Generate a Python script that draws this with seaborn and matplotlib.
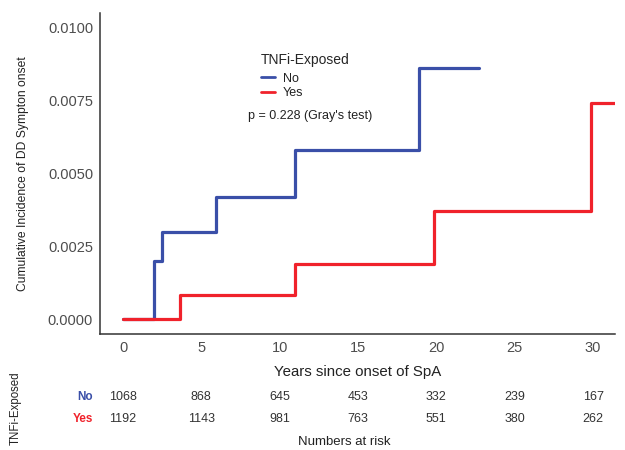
import pandas as pd
import matplotlib.pyplot as plt
import seaborn as sns

# --- Data ---
time_no = [0, 1.97, 2.48, 5.92, 10.96, 18.9, 22.7]
cif_no = [0, 0.0020, 0.0030, 0.0042, 0.0058, 0.0086, 0.0086]
time_yes = [0, 3.63, 10.96, 19.87, 29.9, 31.4]
cif_yes = [0, 0.00085, 0.0019, 0.0037, 0.0074, 0.0074]

risk_times = [0, 5, 10, 15, 20, 25, 30]
risk_no = [1068, 868, 645, 453, 332, 239, 167]
risk_yes = [1192, 1143, 981, 763, 551, 380, 262]

groups = ["No", "Yes"]
colors = {"No": "#3a4fa8", "Yes": "#f0222b"}

df = pd.concat([
    pd.DataFrame({"time": time_no, "cif": cif_no, "TNFi-Exposed": "No"}),
    pd.DataFrame({"time": time_yes, "cif": cif_yes, "TNFi-Exposed": "Yes"}),
])

# --- Style ---
sns.set_style("white")
plt.rcParams['font.family'] = ['Liberation Sans', 'DejaVu Sans']
txt_col = "#4d4d4d"
dark = "#222222"

fig = plt.figure(figsize=(6.25, 4.5), dpi=100)
ax = fig.add_axes([100 / 625, 1 - 334 / 450, 515 / 625, 321 / 450])

sns.lineplot(data=df, x="time", y="cif", hue="TNFi-Exposed", hue_order=groups,
             palette=colors, drawstyle="steps-post", linewidth=2.3,
             estimator=None, sort=False, ax=ax)

ax.set_xlim(-1.47, 31.4)
ax.set_ylim(-0.0005, 0.0105)
ax.set_xticks(risk_times)
ax.set_yticks([0, 0.0025, 0.005, 0.0075, 0.01])
ax.set_yticklabels(["0.0000", "0.0025", "0.0050", "0.0075", "0.0100"])
ax.tick_params(axis="both", colors="#333333", labelcolor=txt_col, labelsize=10.5,
               length=3, width=0.8, direction="out", pad=2)
sns.despine(ax=ax)
for s in ["left", "bottom"]:
    ax.spines[s].set_color("#333333")
    ax.spines[s].set_linewidth(1.1)

ax.set_xlabel("Years since onset of SpA", fontsize=10.8, color=dark)
ax.xaxis.set_label_coords(0.5, -0.097)
ax.set_ylabel("Cumulative Incidence of DD Sympton onset", fontsize=8.7, color=dark)
ax.yaxis.set_label_coords(-0.137, 0.5)

leg = ax.legend(title="TNFi-Exposed", loc="upper left", bbox_to_anchor=(0.313, 0.875),
                frameon=False, fontsize=9, title_fontsize=10, handlelength=1.1,
                handletextpad=0.65, labelspacing=0.22, borderpad=0, borderaxespad=0)
leg._legend_box.align = "left"
leg._legend_box.sep = 4
for t in leg.get_texts():
    t.set_color(dark)
for h in leg.get_lines():
    h.set_linewidth(2)

ax.text(0.287, 0.679, "p = 0.228 (Gray's test)", transform=ax.transAxes,
        va="center", fontsize=9, color=dark)

# --- Numbers at risk table (y units = pixels from figure bottom) ---
tab = fig.add_axes([100 / 625, 0, 515 / 625, 1 - 384 / 450], sharex=ax)
tab.set_ylim(0, 66)
tab.axis("off")
for t, n1, n2 in zip(risk_times, risk_no, risk_yes):
    tab.text(t, 53, str(n1), ha="center", va="center", fontsize=9, color="#333333")
    tab.text(t, 31, str(n2), ha="center", va="center", fontsize=9, color="#333333")
tab.text(-1.9, 53, "No", ha="right", va="center", fontsize=8.5, fontweight="bold",
         color=colors["No"])
tab.text(-1.9, 31, "Yes", ha="right", va="center", fontsize=8.5, fontweight="bold",
         color=colors["Yes"])
tab.text(14.1, 8, "Numbers at risk", ha="center", va="center", fontsize=9.5,
         color=dark)
fig.text(16 / 625, 1 - 408 / 450, "TNFi-Exposed", rotation=90, ha="center",
         va="center", fontsize=8.3, color=dark)

fig.savefig("out.png", dpi=100)
